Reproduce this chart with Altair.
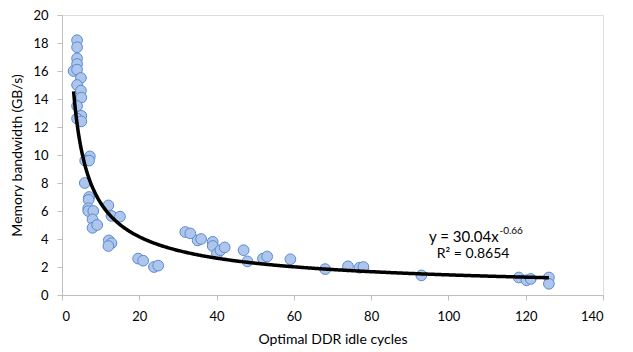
import altair as alt
import pandas as pd

# Optimal DDR idle cycles (x) vs memory bandwidth GB/s (y)
idle_cycles = [3.0, 3.9, 3.9, 3.9, 3.9, 3.9, 4.9, 3.9, 4.9, 5.0, 3.9, 5.0, 3.9, 5.0,
               7.2, 6.0, 7.0, 5.9, 7.0, 6.9, 6.8, 6.8, 8.1, 12.0, 12.8, 15.0,
               7.9, 7.9, 9.1, 12.1, 12.8, 12.0, 19.7, 21.0, 23.8, 24.9,
               31.9, 33.2, 35.1, 36.0, 39.0, 39.0, 40.1, 41.0, 42.1, 47.0, 48.0,
               52.0, 53.1, 59.1, 68.1, 74.0, 77.0, 78.0, 93.0,
               118.2, 120.2, 121.3, 126.0, 126.0]
bandwidth = [16.0, 18.2, 17.7, 16.9, 16.5, 16.1, 15.5, 15.0, 14.6, 14.1, 13.5, 12.8, 12.6, 12.4,
             9.9, 9.6, 9.6, 8.0, 7.0, 6.8, 6.2, 6.0, 6.0, 6.4, 5.65, 5.6,
             5.4, 4.8, 5.0, 3.9, 3.7, 3.5, 2.6, 2.45, 2.0, 2.1,
             4.5, 4.4, 3.9, 4.0, 3.8, 3.5, 2.95, 3.2, 3.4, 3.2, 2.4,
             2.6, 2.75, 2.55, 1.85, 2.05, 1.95, 2.0, 1.4,
             1.25, 1.05, 1.15, 1.25, 0.8]

x_ticks = [0, 20, 40, 60, 80, 100, 120, 140]
y_ticks = [0, 2, 4, 6, 8, 10, 12, 14, 16, 18, 20]

# Power trendline as printed on the chart: y = 30.04 x^-0.66
fit_a = 30.04
fit_b = -0.66
eq_main = "y = 30.04x"
eq_exp = "-0.66"
eq_r2 = "R² = 0.8654"

df = pd.DataFrame({"x": idle_cycles, "y": bandwidth})

FONT = "Lato"
AX = "#bfbfbf"

xs = alt.Scale(domain=[0, 140], nice=False, zero=True)
ys = alt.Scale(domain=[0, 20], nice=False)

axis_common = dict(grid=False, domainColor=AX, tickColor=AX, tickSize=5,
                   labelFont=FONT, labelFontSize=13, labelColor="#000000",
                   labelOverlap=False, titleFont=FONT, titleFontSize=14,
                   titleFontWeight="normal", titleColor="#000000")

X = alt.X("x:Q", scale=xs,
          axis=alt.Axis(title="Optimal DDR idle cycles", values=x_ticks,
                        labelPadding=10, titlePadding=9, **axis_common))
Y = alt.Y("y:Q", scale=ys,
          axis=alt.Axis(title="Memory bandwidth (GB/s)", values=y_ticks,
                        labelPadding=9, titlePadding=8, **axis_common))

points = alt.Chart(df).mark_circle(
    size=115, color="#aec6ec", opacity=1, stroke="#5a8ad0", strokeWidth=1
).encode(x=X, y=Y)

trend = alt.Chart(alt.sequence(3.0, 126.25, 0.25, as_="x")).transform_calculate(
    y=f"{fit_a} * pow(datum.x, {fit_b})"
).mark_line(color="#000000", strokeWidth=3.5).encode(x=X, y=Y)

ann = pd.DataFrame({
    "x": [95.0, 97.0],
    "y": [4.17, 2.96],
    "t": [eq_main, eq_r2],
    "s": [15, 14],
})
ann_text = alt.Chart(ann).mark_text(
    align="left", baseline="middle", font=FONT, color="#000000"
).encode(x=X, y=Y, text="t:N",
         size=alt.Size("s:Q", scale=None, legend=None))

sup = pd.DataFrame({"x": [113.2], "y": [4.55], "t": [eq_exp]})
sup_text = alt.Chart(sup).mark_text(
    align="left", baseline="middle", font=FONT, fontSize=10, color="#000000"
).encode(x=X, y=Y, text="t:N")

chart = alt.layer(points, trend, ann_text, sup_text).properties(
    width=541, height=280,
    autosize=alt.AutoSizeParams(type="none"),
    padding={"left": 54, "top": 7, "right": 22, "bottom": 56},
).configure_view(stroke=None).configure(background="#ffffff")

chart.save("out.html", embed_options={"renderer": "svg", "actions": False})
